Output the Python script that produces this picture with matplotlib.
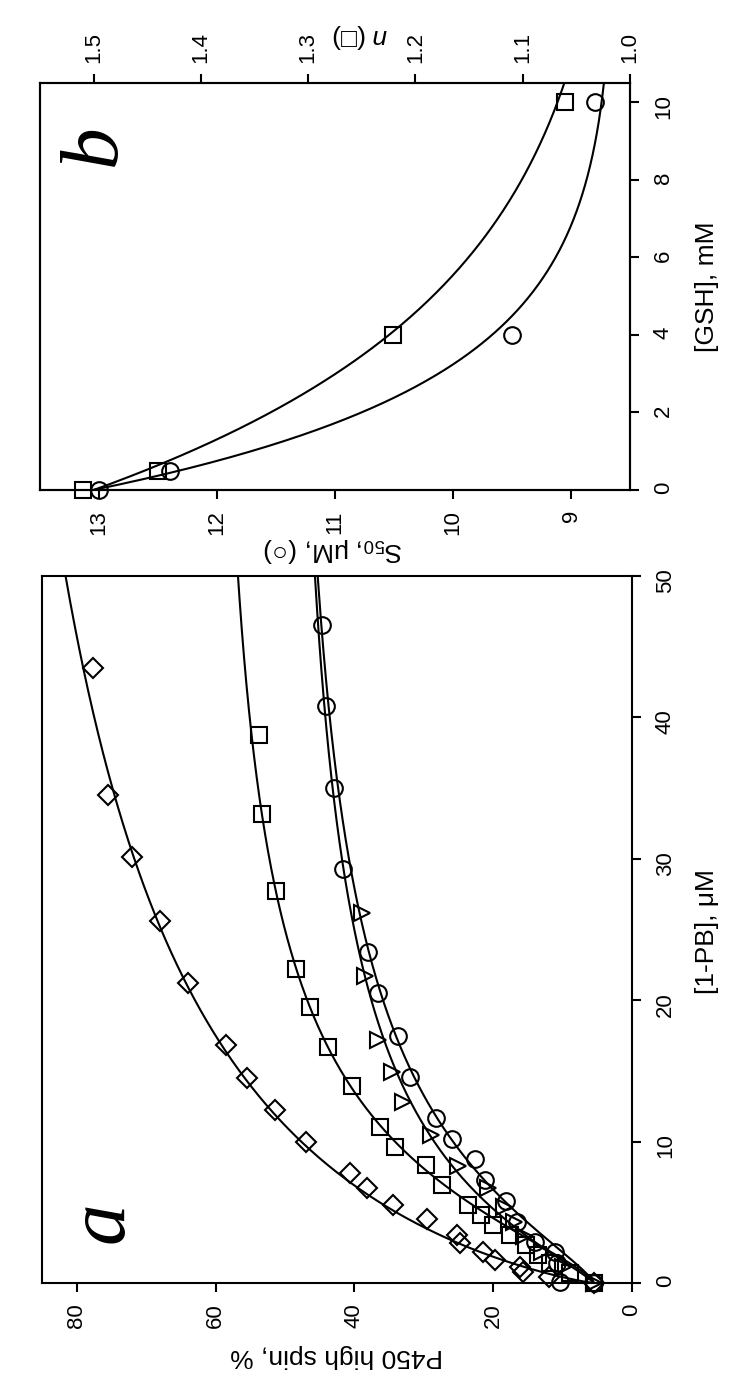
import matplotlib
matplotlib.use('Agg')
import matplotlib.pyplot as plt
import numpy as np
from matplotlib import font_manager

# ---------------- data ----------------
# Panel a: [1-PB] (uM) vs P450 high spin (%)
dia_x = [0, 0.4, 0.8, 1.15, 1.6, 2.2, 2.8, 3.4, 4.5, 5.5, 6.7, 7.8, 10.0, 12.2, 14.5, 16.8, 21.2, 25.6, 30.1, 34.5, 43.5]
dia_y = [5.5, 12.0, 15.7, 16.1, 19.7, 21.5, 24.8, 25.2, 29.6, 34.4, 38.2, 40.6, 47.0, 51.5, 55.5, 58.5, 64.0, 68.0, 72.0, 75.5, 77.7]
sq_x = [0, 0.7, 1.4, 2.0, 2.7, 3.4, 4.1, 4.8, 5.5, 6.9, 8.35, 9.64, 11.05, 13.9, 16.7, 19.5, 22.2, 27.7, 33.2, 38.75]
sq_y = [5.5, 9.0, 11.8, 13.5, 15.2, 17.6, 20.0, 21.7, 23.6, 27.4, 29.7, 34.1, 36.3, 40.4, 43.8, 46.4, 48.4, 51.3, 53.3, 53.7]
tri_x = [0, 1.1, 2.2, 3.3, 4.3, 5.4, 6.7, 8.3, 10.5, 12.8, 14.9, 17.2, 21.7, 26.2]
tri_y = [5.5, 10.0, 13.0, 15.5, 17.0, 18.5, 20.7, 25.0, 28.9, 33.0, 34.6, 36.6, 38.5, 38.9]
cir_x = [0, 0.1, 1.4, 2.2, 2.9, 4.3, 5.8, 7.3, 8.8, 10.2, 11.7, 14.6, 17.5, 20.5, 23.4, 29.3, 35.0, 40.8, 46.5]
cir_y = [5.5, 10.4, 10.8, 11.1, 14.0, 16.6, 18.2, 21.2, 22.6, 26.0, 28.2, 32.0, 33.7, 36.6, 38.0, 41.6, 42.9, 44.1, 44.7]

# Hill-fit parameters of the drawn curves: baseline, amplitude, S50, n
fit_y0 = [5.5, 5.5, 5.5, 5.5]
fit_V = [105.0, 56.5, 46.0, 46.0]
fit_K = [16.0, 9.8, 10.0, 12.0]
fit_n = [0.85, 1.4, 1.2, 1.3]

# Panel b: [GSH] (mM) vs S50 (uM, circles) and n (squares)
gsh = [0, 0.5, 4, 10]
s50 = [13.0, 12.4, 9.5, 8.8]
hill_n = [1.51, 1.44, 1.221, 1.061]
# exponential fits: c + A*exp(-k*GSH)
s50_fit = [8.62, 4.43, 0.36]
n_fit = [1.0, 0.5, 0.2]

# ---------------- fonts ----------------
names = {f.name for f in font_manager.fontManager.ttflist}
if 'Liberation Sans Narrow' in names:
    SANS, TS, LS = 'Liberation Sans Narrow', 19, 21
else:
    SANS, TS, LS = 'Liberation Sans', 16, 19
plt.rcParams['font.family'] = [SANS, 'DejaVu Sans']
plt.rcParams['mathtext.fontset'] = 'custom'
plt.rcParams['mathtext.rm'] = SANS
plt.rcParams['mathtext.it'] = SANS + ':italic'

W, H = 750, 1377
fig = plt.figure(figsize=(W / 100, H / 100), dpi=100)

def fx(px):
    return px / W

def fy(py):
    return 1 - py / H

axa = fig.add_axes([fx(42), fy(1283), (632 - 42) / W, (1283 - 576) / H])
axb = fig.add_axes([fx(40), fy(490), (630 - 40) / W, (490 - 83) / H])

mk = dict(ls='none', mfc='none', mec='k', mew=1.5, clip_on=False, zorder=3)

# ---- panel a ----
xs = np.linspace(0, 50, 500)
for y0, V, K, n in zip(fit_y0, fit_V, fit_K, fit_n):
    ys = y0 + V * xs ** n / (K ** n + xs ** n)
    axa.plot(ys, xs, color='k', lw=1.5, zorder=2)
axa.plot(dia_y, dia_x, marker='D', ms=10, **mk)
axa.plot(sq_y, sq_x, marker='s', ms=11, **mk)
axa.plot(tri_y, tri_x, marker='>', ms=11, **mk)
axa.plot(cir_y, cir_x, marker='o', ms=12, **mk)

axa.set_xlim(85, 0)
axa.set_ylim(0, 50)
axa.set_xticks([0, 20, 40, 60, 80])
axa.set_yticks(range(0, 51, 10))
axa.yaxis.tick_right()
axa.tick_params(axis='both', direction='out', length=6.5, width=1.5,
                labelsize=TS, labelrotation=90)
axa.tick_params(axis='x', pad=8)
axa.tick_params(axis='y', pad=10)
for s in axa.spines.values():
    s.set_linewidth(1.5)

fig.text(fx(337), fy(1356), 'P450 high spin, %', rotation=180, ha='center', va='center', fontsize=LS)
fig.text(fx(707), fy(932), '[1-PB], μM', rotation=90, ha='center', va='center', fontsize=LS)
fig.text(fx(103), fy(1222), 'a', rotation=90, ha='center', va='center',
         family=['Liberation Serif', 'DejaVu Serif'], style='italic', fontsize=60)

# ---- panel b ----
g = np.linspace(0, 10.5, 300)
c, A, k = s50_fit
axb.plot(c + A * np.exp(-k * g), g, color='k', lw=1.5, zorder=2)
axb.plot(s50, gsh, marker='o', ms=12, **mk)
axb.set_xlim(13.5, 8.5)
axb.set_ylim(0, 10.5)
axb.set_xticks([13, 12, 11, 10, 9])
axb.set_yticks(range(0, 11, 2))

axb2 = axb.twiny()
c, A, k = n_fit
axb2.plot(c + A * np.exp(-k * g), g, color='k', lw=1.5, zorder=2)
axb2.plot(hill_n, gsh, marker='s', ms=11, **mk)
axb2.set_xlim(1.55, 1.0)
axb2.set_xticks([1.0, 1.1, 1.2, 1.3, 1.4, 1.5])
axb2.set_xticklabels(['1.0', '1.1', '1.2', '1.3', '1.4', '1.5'])
axb2.set_ylim(0, 10.5)

axb.yaxis.tick_right()
for ax in (axb, axb2):
    ax.tick_params(axis='both', direction='out', length=6.5, width=1.5,
                   labelsize=TS, labelrotation=90)
    for s in ax.spines.values():
        s.set_linewidth(1.5)
axb.tick_params(axis='x', pad=8)
axb.tick_params(axis='y', pad=10)
axb2.tick_params(axis='x', pad=8)

fig.text(fx(333), fy(550), 'S$_\\mathregular{50}$, μM, (○)', rotation=180, ha='center', va='center', fontsize=LS)
fig.text(fx(360), fy(36), '$n$ (□)', rotation=180, ha='center', va='center', fontsize=LS)
fig.text(fx(707), fy(287), '[GSH], mM', rotation=90, ha='center', va='center', fontsize=LS)
fig.text(fx(95), fy(145), 'b', rotation=90, ha='center', va='center',
         family=['Liberation Serif', 'DejaVu Serif'], style='italic', fontsize=60)

fig.savefig('out.png', dpi=100)
